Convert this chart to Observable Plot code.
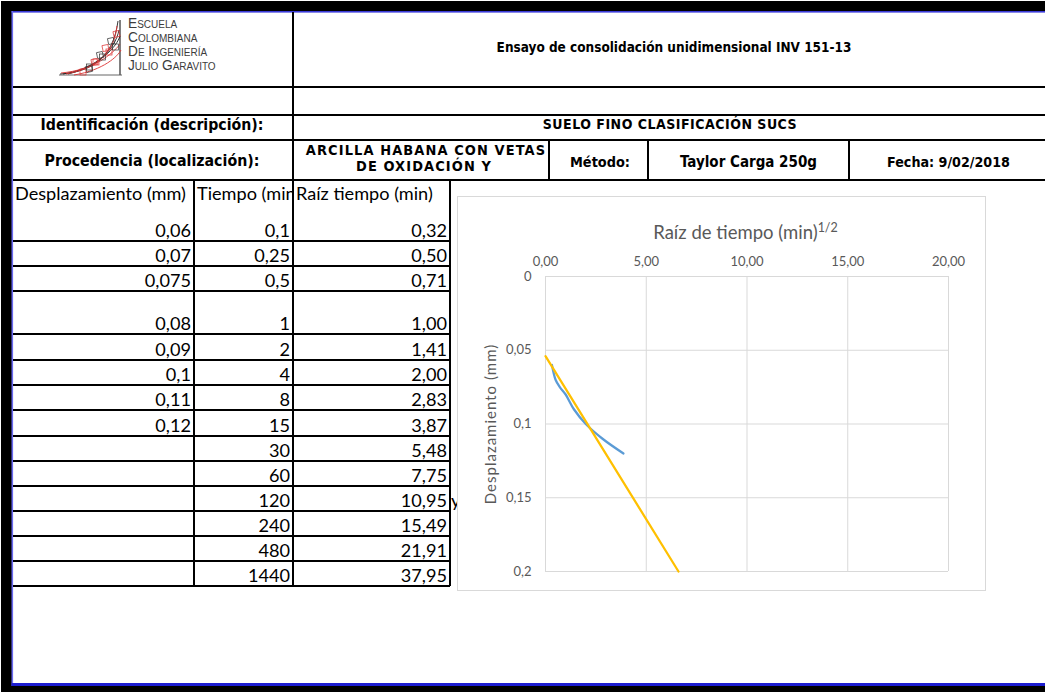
<!DOCTYPE html>
<html><head><meta charset="utf-8">
<script src="https://cdn.jsdelivr.net/npm/d3@7"></script>
<script src="https://cdn.jsdelivr.net/npm/@observablehq/plot@0.6"></script>
<style>
html,body{margin:0;padding:0;background:#fff;}
#page{position:relative;width:1045px;height:692px;overflow:hidden;background:#fff;}
#sheet{position:absolute;left:0;top:0;}
#chartbox{position:absolute;left:457px;top:196px;width:527px;height:393px;border:1px solid #d9d9d9;background:#fff;}
#chartbox svg{position:absolute;left:0;top:0;}
</style></head>
<body><div id="page"><svg id="sheet" width="1045" height="692" xmlns="http://www.w3.org/2000/svg"></svg><div id="chartbox"></div></div>
<script>
// ---- data ----
const desplazamiento = [0.06, 0.07, 0.075, 0.08, 0.09, 0.1, 0.11, 0.12];
const tiempo = [0.1, 0.25, 0.5, 1, 2, 4, 8, 15, 30, 60, 120, 240, 480, 1440];
const raiz = [0.32, 0.50, 0.71, 1.00, 1.41, 2.00, 2.83, 3.87, 5.48, 7.75, 10.95, 15.49, 21.91, 37.95];
const tangenteX = [0, 6.6];
const tangenteY = [0.054, 0.2];
const xTicks = [0, 5, 10, 15, 20];
const yTicks = [0, 0.05, 0.1, 0.15, 0.2];
const headerTitle = "Ensayo de consolidación unidimensional INV 151-13";
const logoLines = ["Escuela", "Colombiana", "De Ingeniería", "Julio Garavito"];
const columnas = ["Desplazamiento (mm)", "Tiempo (min)", "Raíz tiempo (min)"];

// ---- layout (spreadsheet grid) ----
const rowBottoms = [241, 266, 291, 334, 360, 385, 410, 436, 461, 486, 511, 536, 561, 586];
const comma = v => String(v).replace(".", ",");

const svg = d3.select("#sheet");
const ctx = document.createElement("canvas").getContext("2d");
const FB = "'DejaVu Sans Condensed', 'DejaVu Sans', sans-serif";
const FR = "Lato, 'Open Sans', sans-serif";
const FL = "'Liberation Sans', Arial, sans-serif";
function fit(s, family, weight, width, variant = "") {
  ctx.font = `${variant} ${weight} 100px ${family}`;
  return 100 * width / ctx.measureText(s).width;
}
function txt(s, x, y, o = {}) {
  const t = svg.append("text").attr("x", x).attr("y", y).text(s)
    .attr("font-family", o.family || FR).attr("font-size", o.size || 14)
    .attr("font-weight", o.weight || "normal").attr("text-anchor", o.anchor || "start")
    .attr("fill", o.fill || "#000");
  if (o.variant) t.attr("font-variant", o.variant);
  if (o.clip) t.attr("clip-path", o.clip);
  if (o.ls) t.attr("letter-spacing", o.ls);
  return t;
}
function rect(x, y, w, h, fill) { svg.append("rect").attr("x", x).attr("y", y).attr("width", w).attr("height", h).attr("fill", fill); }
function line(x1, y1, x2, y2, w = 2, c = "#000") {
  svg.append("line").attr("x1", x1).attr("y1", y1).attr("x2", x2).attr("y2", y2).attr("stroke", c).attr("stroke-width", w);
}

// outer frame
rect(1, 1, 1044, 11, "#000");
rect(1, 1, 11, 691, "#000");
rect(1, 686, 1044, 6, "#000");
rect(11.5, 11, 1034, 1.6, "#3a3ad8");
rect(11.5, 11, 1.6, 675, "#6a6af0");
rect(11.5, 683, 1034, 3, "#1c1cd0");

// header grid
[87, 115, 140, 180].forEach(y => line(13, y, 1045, y));
line(293, 12, 293, 586);
[549, 648, 849].forEach(x => line(x, 140, x, 180));
line(194, 180, 194, 586);
line(450, 180, 450, 586);
rowBottoms.forEach(y => line(13, y, 450, y));

// logo
const lg = svg.append("g").attr("fill", "none");
lg.append("path").attr("d", "M59,75 H122").attr("stroke", "#666").attr("stroke-width", 1);
lg.append("path").attr("d", "M120,20 V75").attr("stroke", "#555").attr("stroke-width", 1.5);
[["M60,74 C92,72 113,58 118,21", "#222"], ["M63,74 C96,69 115,50 119,30", "#222"], ["M68,74 C100,66 117,46 120,36", "#222"],
 ["M61,73 C93,70 114,56 117,26", "#d33"], ["M66,74 C98,68 116,50 120,44", "#d33"], ["M74,75 C104,70 118,56 121,50", "#d33"]]
  .forEach(([d, c]) => lg.append("path").attr("d", d).attr("stroke", c).attr("stroke-width", 0.9));
for (let i = 0; i < 6; i++) {
  lg.append("rect").attr("x", 86 + i * 5.5).attr("y", 66 - i * 7).attr("width", 6).attr("height", 6)
    .attr("stroke", i % 2 ? "#d33" : "#333").attr("stroke-width", 0.7)
    .attr("transform", `rotate(-12 ${89 + i * 5.5} ${69 - i * 7})`);
  lg.append("rect").attr("x", 80 + i * 6.5).attr("y", 69 - i * 5).attr("width", 6).attr("height", 6)
    .attr("stroke", i % 2 ? "#333" : "#d33").attr("stroke-width", 0.7);
}
const logoSize = fit("Julio Garavito", FL, "normal", 85, "small-caps");
logoLines.forEach((s, i) => txt(s, 128, [27.5, 41.5, 56, 70][i], {family: FL, size: logoSize, variant: "small-caps", fill: "#3c3c3c"}));

// header texts (bold)
function bold(s, cx, y, w, size, ls) {
  const sz = size || fit(s, FB, "bold", w);
  txt(s, cx, y, {family: FB, weight: "bold", size: sz, anchor: "middle", ls});
  return sz;
}
bold(headerTitle, 674, 52, 355);
bold("Identificación (descripción):", 152, 130, 223);
bold("SUELO FINO CLASIFICACIÓN SUCS", 670, 129, 240, 0, 0.5);
bold("Procedencia (localización):", 152, 166, 215);
const arcSize = bold("ARCILLA HABANA CON VETAS", 426, 155, 214, 0, 1.1);
bold("DE OXIDACIÓN Y", 424, 171, 0, arcSize, 1.1);
bold("Método:", 600, 167, 60);
bold("Taylor Carga 250g", 748.5, 167, 137);
bold("Fecha: 9/02/2018", 948.5, 167, 123);

// table
svg.append("clipPath").attr("id", "c2").append("rect").attr("x", 194).attr("y", 180).attr("width", 98).attr("height", 30);
const tSize = fit(columnas[0], FR, "normal", 171);
txt(columnas[0], 15, 200, {size: tSize});
txt(columnas[1], 197, 200, {size: tSize, clip: "url(#c2)"});
txt(columnas[2], 296, 200, {size: tSize});
tiempo.forEach((t, i) => {
  const yb = rowBottoms[i] - 4;
  if (i < desplazamiento.length) txt(comma(desplazamiento[i]), 191, yb, {size: tSize, anchor: "end"});
  txt(comma(t), 290, yb, {size: tSize, anchor: "end"});
  txt(raiz[i].toFixed(2).replace(".", ","), 447, yb, {size: tSize, anchor: "end"});
});
txt("y", 451, 507, {size: tSize});

// ---- chart ----
const curva = desplazamiento.map((d, i) => ({x: raiz[i], y: d}));
const tangente = tangenteX.map((x, i) => ({x, y: tangenteY[i]}));
const fmtX = d => d.toFixed(2).replace(".", ",");
const fmtY = d => String(d).replace(".", ",");
const chart = Plot.plot({
  width: 527, height: 393,
  marginLeft: 87, marginRight: 37, marginTop: 79, marginBottom: 19,
  style: {fontFamily: "Lato, sans-serif", fontSize: "13px", color: "#595959", background: "transparent", overflow: "visible"},
  x: {domain: [0, 20]},
  y: {domain: [0, 0.2], reverse: true},
  marks: [
    Plot.gridX(xTicks, {stroke: "#d9d9d9", strokeOpacity: 1}),
    Plot.gridY(yTicks, {stroke: "#d9d9d9", strokeOpacity: 1}),
    Plot.axisX(xTicks, {anchor: "top", tickSize: 0, tickPadding: 11, tickFormat: fmtX, label: null, fill: "#595959"}),
    Plot.axisY(yTicks, {anchor: "left", tickSize: 0, tickPadding: 14, tickFormat: fmtY, label: null, fill: "#595959"}),
    Plot.text(["Desplazamiento (mm)"], {text: d => d, frameAnchor: "left", textAnchor: "middle", rotate: -90, dx: -54, fontSize: 15, fill: "#595959"}),
    Plot.line(curva, {x: "x", y: "y", stroke: "#5B9BD5", strokeWidth: 2.25, curve: "catmull-rom"}),
    Plot.line(tangente, {x: "x", y: "y", stroke: "#FFC000", strokeWidth: 2.25})
  ]
});
document.getElementById("chartbox").appendChild(chart);
d3.select(chart).selectAll("text").filter(function () { return this.textContent === "Desplazamiento (mm)"; })
  .attr("letter-spacing", 1);
const xs = chart.scale("x");
const title = d3.select(chart).append("text")
  .attr("x", xs.apply(10) - 1).attr("y", 42).attr("text-anchor", "middle")
  .attr("font-family", "Lato, sans-serif").attr("font-size", 18.5).attr("fill", "#595959");
title.append("tspan").text("Raíz de tiempo (min)");
title.append("tspan").attr("font-size", 12.5).attr("dy", -7).text("1/2");
</script>
</body></html>
